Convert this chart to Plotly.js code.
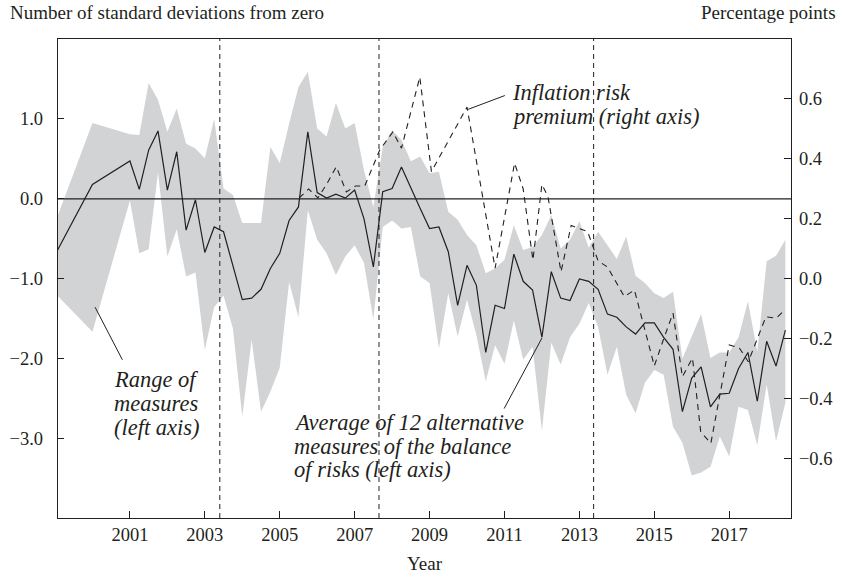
<!DOCTYPE html>
<html>
<head>
<meta charset="utf-8">
<script src="https://cdn.plot.ly/plotly-3.0.1.min.js"></script>
<style>
  html, body { margin: 0; padding: 0; background: #fff; }
  #chart { width: 842px; height: 579px; }
</style>
</head>
<body>
<div id="chart"></div>
<script>
// Quarterly dates (decimal years); first two points are annual
const dates = [1999.0, 2000.0,
  2001.0, 2001.25, 2001.5, 2001.75, 2002.0, 2002.25, 2002.5, 2002.75,
  2003.0, 2003.25, 2003.5, 2003.75, 2004.0, 2004.25, 2004.5, 2004.75,
  2005.0, 2005.25, 2005.5, 2005.75, 2006.0, 2006.25, 2006.5, 2006.75,
  2007.0, 2007.25, 2007.5, 2007.75, 2008.0, 2008.25, 2008.5, 2008.75,
  2009.0, 2009.25, 2009.5, 2009.75, 2010.0, 2010.25, 2010.5, 2010.75,
  2011.0, 2011.25, 2011.5, 2011.75, 2012.0, 2012.25, 2012.5, 2012.75,
  2013.0, 2013.25, 2013.5, 2013.75, 2014.0, 2014.25, 2014.5, 2014.75,
  2015.0, 2015.25, 2015.5, 2015.75, 2016.0, 2016.25, 2016.5, 2016.75,
  2017.0, 2017.25, 2017.5, 2017.75, 2018.0, 2018.25, 2018.5];

// Average of 12 alternative measures (left axis, std devs)
const average = [-0.70, 0.18,
  0.475, 0.12, 0.61, 0.85, 0.11, 0.59, -0.39, -0.01,
  -0.67, -0.35, -0.41, -0.83, -1.26, -1.24, -1.13, -0.87,
  -0.68, -0.27, -0.10, 0.84, 0.08, 0.01, 0.06, 0.01,
  0.11, -0.25, -0.85, 0.09, 0.13, 0.40, 0.13, -0.12,
  -0.37, -0.35, -0.66, -1.33, -0.83, -1.08, -1.92, -1.33,
  -1.37, -0.69, -1.03, -1.14, -1.73, -0.91, -1.24, -1.27,
  -1.00, -1.03, -1.13, -1.44, -1.48, -1.60, -1.69, -1.55,
  -1.55, -1.73, -1.88, -2.66, -2.24, -2.10, -2.60, -2.44,
  -2.43, -2.12, -1.92, -2.53, -1.78, -2.09, -1.64];

// Range of measures: upper and lower bounds (left axis)
const rangeHigh = [-0.30, 0.95,
  0.81, 0.80, 1.45, 1.24, 0.84, 1.13, 0.69, 0.63,
  0.51, 1.00, 0.13, 0.05, -0.30, -0.30, -0.30, 0.65,
  0.45, 0.94, 1.40, 1.59, 0.88, 0.78, 1.20, 0.88,
  0.95, 0.36, -0.10, 0.65, 0.86, 0.74, 0.47, 0.53,
  0.32, 0.34, -0.16, -0.26, -0.45, -0.58, -0.93, -0.87,
  -0.76, -0.33, -0.64, -0.60, -0.45, -0.20, -0.62, -0.51,
  -0.28, -0.61, -0.41, -0.58, -0.75, -0.47, -0.96, -1.05,
  -1.18, -1.24, -1.16, -2.00, -1.73, -1.44, -1.99, -1.92,
  -1.92, -1.73, -1.28, -1.91, -0.78, -0.71, -0.51];

const rangeLow = [-1.18, -1.66,
  -0.02, -0.68, -0.63, 0.33, -0.72, -0.38, -0.97, -0.92,
  -1.89, -1.35, -1.21, -1.62, -2.72, -1.76, -2.66, -2.41,
  -2.11, -1.04, -1.48, -0.14, -0.51, -0.68, -0.95, -0.72,
  -0.58, -0.80, -1.51, -0.35, -0.27, -0.37, -0.35, -0.97,
  -1.05, -1.87, -1.18, -1.72, -1.26, -1.70, -2.28, -1.83,
  -2.06, -1.52, -2.01, -1.85, -2.90, -1.80, -2.07, -1.73,
  -1.56, -1.30, -1.60, -2.20, -1.85, -2.45, -2.68, -2.30,
  -2.14, -2.20, -2.85, -3.05, -3.46, -3.42, -3.35, -2.97,
  -3.22, -2.60, -2.64, -3.08, -2.32, -3.03, -2.55];

// Inflation risk premium (right axis, percentage points)
const irpDates = [2005.52, 2005.77, 2006.02, 2006.27, 2006.51, 2006.78, 2007.02, 2007.27,
  2007.67, 2008.02, 2008.25, 2008.74, 2009.05, 2010.0, 2010.75, 2011.27,
  2011.5, 2011.76, 2012.0, 2012.16, 2012.51, 2012.78, 2013.22, 2013.5,
  2013.75, 2014.2, 2014.47, 2014.72, 2015.0, 2015.25, 2015.5, 2015.75,
  2016.02, 2016.24, 2016.51, 2017.0, 2017.27, 2017.51, 2017.98, 2018.25, 2018.49];
const irp = [0.27, 0.30, 0.27, 0.32, 0.374, 0.29, 0.31, 0.31,
  0.43, 0.49, 0.436, 0.673, 0.358, 0.573, 0.036, 0.386,
  0.30, 0.063, 0.315, 0.275, 0.024, 0.178, 0.158, 0.06,
  0.04, -0.059, -0.037, -0.16, -0.29, -0.20, -0.114, -0.326,
  -0.264, -0.51, -0.548, -0.22, -0.23, -0.276, -0.126, -0.131, -0.103];

// Event lines and tick labels
const eventDates = [2003.4, 2007.65, 2013.38];
const xTicks = [2001, 2003, 2005, 2007, 2009, 2011, 2013, 2015, 2017];
const leftTicks = [1, 0, -1, -2, -3];
const leftLabels = ['1.0', '0.0', '−1.0', '−2.0', '−3.0'];
const rightTicks = [0.6, 0.4, 0.2, 0, -0.2, -0.4, -0.6];
const rightLabels = ['0.6', '0.4', '0.2', '0.0', '−0.2', '−0.4', '−0.6'];

// Annotation texts (one entry per printed line)
const irpLabel = ['Inflation risk', 'premium (right axis)'];
const rangeLabel = ['Range of', 'measures', '(left axis)'];
const avgLabel = ['Average of 12 alternative', 'measures of the balance', 'of risks (left axis)'];

const ink = '#231f20';
const font = 'Liberation Serif, Times New Roman, serif';
const noteFont = { family: font, size: 22.5, color: ink };

const traces = [
  { x: dates, y: rangeLow, type: 'scatter', mode: 'lines',
    line: { width: 0, color: 'rgba(0,0,0,0)' }, hoverinfo: 'skip', showlegend: false },
  { x: dates, y: rangeHigh, type: 'scatter', mode: 'lines', fill: 'tonexty',
    fillcolor: '#d2d3d5', line: { width: 0, color: 'rgba(0,0,0,0)' }, showlegend: false },
  { x: irpDates, y: irp, type: 'scatter', mode: 'lines', yaxis: 'y2',
    line: { color: ink, width: 1.1, dash: '6px,5px' }, showlegend: false },
  { x: dates, y: average, type: 'scatter', mode: 'lines',
    line: { color: ink, width: 1.2 }, showlegend: false }
];

const shapes = eventDates.map(d => ({
  type: 'line', xref: 'x', yref: 'paper', x0: d, x1: d, y0: 0, y1: 1,
  line: { color: ink, width: 1, dash: '5px,4px' }
}));
shapes.push({ type: 'line', xref: 'paper', yref: 'y', x0: 0, x1: 1, y0: 0, y1: 0,
  line: { color: ink, width: 1.2 } });

function noteLines(lines, x, yStart, step) {
  return lines.map((t, i) => ({
    xref: 'x', yref: 'y', x: x, y: yStart - i * step, xanchor: 'left', yanchor: 'middle',
    text: '<i>' + t + '</i>', showarrow: false, font: noteFont, borderpad: 0
  }));
}

const annotations = [
  { xref: 'paper', yref: 'paper', x: 0, y: 1, xshift: -50, yshift: 27, xanchor: 'left', yanchor: 'middle',
    text: 'Number of standard deviations from zero', showarrow: false,
    font: { family: font, size: 19, color: ink } },
  { xref: 'paper', yref: 'paper', x: 1, y: 1, xshift: 47, yshift: 27, xanchor: 'right', yanchor: 'middle',
    text: 'Percentage points', showarrow: false,
    font: { family: font, size: 19, color: ink } },
  ...noteLines(irpLabel, 2011.17, 1.325, 0.30),
  ...noteLines(rangeLabel, 2000.56, -2.2625, 0.30),
  ...noteLines(avgLabel, 2005.36, -2.796, 0.296),
  // pointer lines
  { xref: 'x', yref: 'y', x: 2010.03, y: 1.12, ax: 2011.05, ay: 1.30, axref: 'x', ayref: 'y',
    showarrow: true, arrowhead: 0, arrowwidth: 1, arrowcolor: ink, text: '' },
  { xref: 'x', yref: 'y', x: 2000.07, y: -1.354, ax: 2000.82, ay: -2.03, axref: 'x', ayref: 'y',
    showarrow: true, arrowhead: 0, arrowwidth: 1, arrowcolor: ink, text: '' },
  { xref: 'x', yref: 'y', x: 2012.0, y: -1.74, ax: 2010.97, ay: -2.64, axref: 'x', ayref: 'y',
    showarrow: true, arrowhead: 0, arrowwidth: 1, arrowcolor: ink, text: '' }
];

const tickFont = { family: font, size: 18.5, color: ink };

const layout = {
  width: 842, height: 579,
  margin: { l: 58, r: 51, t: 39, b: 61 },
  paper_bgcolor: '#fff', plot_bgcolor: '#fff',
  font: { family: font, size: 18, color: ink },
  showlegend: false,
  xaxis: {
    range: [1999.08, 2018.65], tickvals: xTicks, ticktext: xTicks.map(String),
    ticks: 'inside', ticklen: 7, tickcolor: ink, tickwidth: 1,
    showline: true, linecolor: ink, linewidth: 1.2, mirror: true,
    showgrid: false, zeroline: false,
    title: { text: 'Year', font: { family: font, size: 19, color: ink }, standoff: 12 },
    tickfont: tickFont
  },
  yaxis: {
    range: [-3.99, 2.0], tickvals: leftTicks, ticktext: leftLabels,
    ticks: 'inside', ticklen: 6, tickcolor: ink, tickwidth: 1,
    ticklabelstandoff: 10,
    showline: true, linecolor: ink, linewidth: 1.2,
    showgrid: false, zeroline: false,
    tickfont: tickFont
  },
  yaxis2: {
    overlaying: 'y', side: 'right',
    range: [-0.797, 0.8], tickvals: rightTicks, ticktext: rightLabels,
    ticks: 'inside', ticklen: 7, tickcolor: ink, tickwidth: 1,
    ticklabelstandoff: 3,
    showline: true, linecolor: ink, linewidth: 1.2,
    showgrid: false, zeroline: false,
    tickfont: tickFont
  },
  shapes: shapes,
  annotations: annotations
};

Plotly.newPlot('chart', traces, layout, { displayModeBar: false, staticPlot: true });
</script>
</body>
</html>
